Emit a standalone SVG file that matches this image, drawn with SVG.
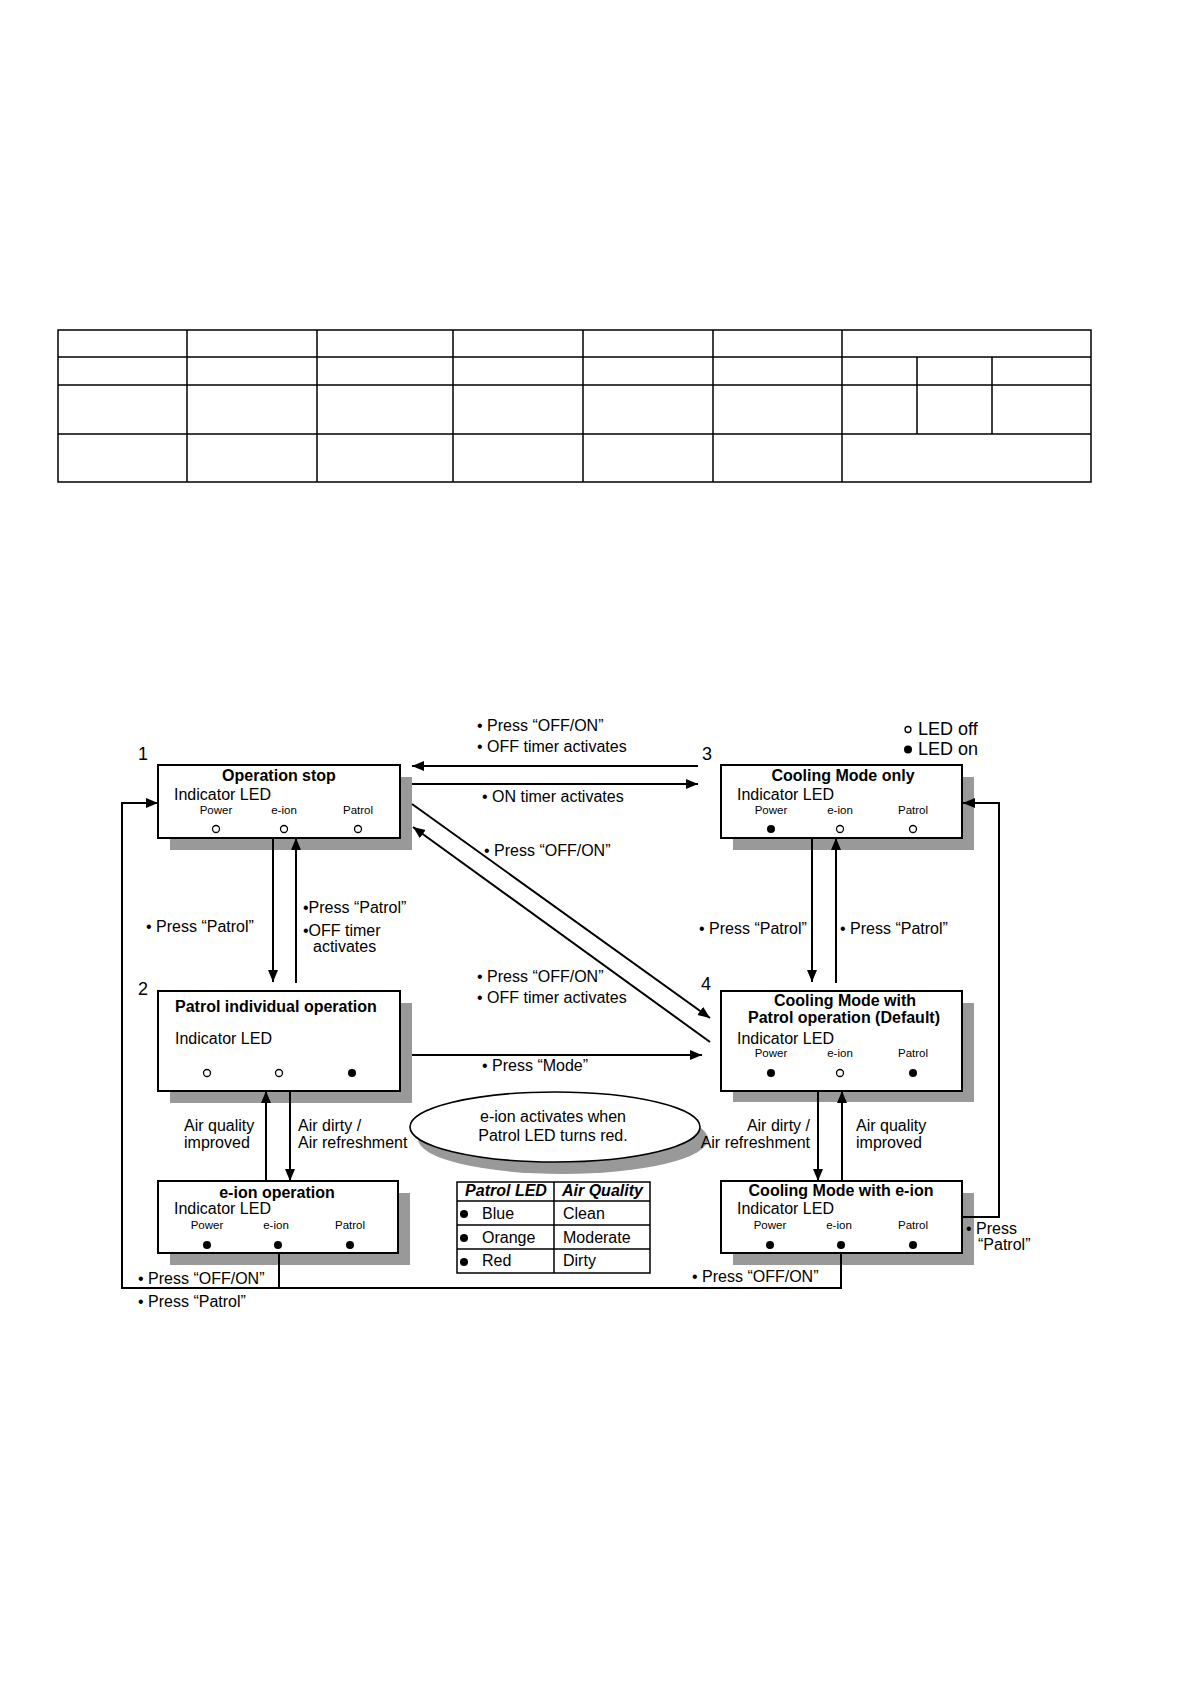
<svg xmlns="http://www.w3.org/2000/svg" width="1190" height="1684" viewBox="0 0 1190 1684">
<defs>
<marker id="arr" markerUnits="userSpaceOnUse" markerWidth="13" markerHeight="11" refX="12" refY="5" orient="auto">
<path d="M0,0 L12,5 L0,10 z" fill="#000"/>
</marker>
<style>
text{font-family:"Liberation Sans",Arial,sans-serif;fill:#000}
.t{font-size:16px}
.b{font-size:16px;font-weight:bold}
.bi{font-size:16px;font-weight:bold;font-style:italic}
.s{font-size:11.5px}
.n{font-size:18px}
.il{font-size:16px}
.box{fill:#fff;stroke:#000;stroke-width:2}
.sh{fill:#999}
.ln{fill:none;stroke:#000;stroke-width:2}
.ar{fill:none;stroke:#000;stroke-width:2;marker-end:url(#arr)}
.tb{fill:none;stroke:#000;stroke-width:1.5}
.off{fill:#fff;stroke:#000;stroke-width:1.3}
.on{fill:#000}
</style>
</defs>
<rect width="1190" height="1684" fill="#fff"/>

<g id="top-table">
<rect class="tb" x="58" y="330" width="1033" height="152"/>
<path class="tb" d="M58,357H1091M58,385H1091M58,434H1091M187,330V482M317,330V482M453,330V482M583,330V482M713,330V482M842,330V482M917,357V434M992,357V434"/>
</g>

<g id="node1">
<rect class="sh" x="170" y="777" width="242" height="73"/>
<rect class="box" x="158" y="765" width="242" height="73"/>
<text class="b" x="279" y="781" text-anchor="middle">Operation stop</text>
<text class="il" x="174" y="800">Indicator LED</text>
<text class="s" x="216" y="814" text-anchor="middle">Power</text>
<text class="s" x="284" y="814" text-anchor="middle">e-ion</text>
<text class="s" x="358" y="814" text-anchor="middle">Patrol</text>
<circle class="off" cx="216" cy="829" r="3.5"/>
<circle class="off" cx="284" cy="829" r="3.5"/>
<circle class="off" cx="358" cy="829" r="3.5"/>
</g>

<g id="node3">
<rect class="sh" x="733" y="777" width="241" height="73"/>
<rect class="box" x="721" y="765" width="241" height="73"/>
<text class="b" x="843" y="781" text-anchor="middle">Cooling Mode only</text>
<text class="il" x="737" y="800">Indicator LED</text>
<text class="s" x="771" y="814" text-anchor="middle">Power</text>
<text class="s" x="840" y="814" text-anchor="middle">e-ion</text>
<text class="s" x="913" y="814" text-anchor="middle">Patrol</text>
<circle class="on" cx="771" cy="829" r="4"/>
<circle class="off" cx="840" cy="829" r="3.5"/>
<circle class="off" cx="913" cy="829" r="3.5"/>
</g>

<g id="node2">
<rect class="sh" x="170" y="1003" width="242" height="100"/>
<rect class="box" x="158" y="991" width="242" height="100"/>
<text class="b" x="175" y="1012">Patrol individual operation</text>
<text class="il" x="175" y="1044">Indicator LED</text>
<circle class="off" cx="207" cy="1073" r="3.5"/>
<circle class="off" cx="279" cy="1073" r="3.5"/>
<circle class="on" cx="352" cy="1073" r="4"/>
</g>

<g id="node4">
<rect class="sh" x="733" y="1003" width="241" height="99"/>
<rect class="box" x="721" y="991" width="241" height="100"/>
<text class="b" x="845" y="1006" text-anchor="middle">Cooling Mode with</text>
<text class="b" x="844" y="1023" text-anchor="middle">Patrol operation (Default)</text>
<text class="il" x="737" y="1044">Indicator LED</text>
<text class="s" x="771" y="1057" text-anchor="middle">Power</text>
<text class="s" x="840" y="1057" text-anchor="middle">e-ion</text>
<text class="s" x="913" y="1057" text-anchor="middle">Patrol</text>
<circle class="on" cx="771" cy="1073" r="4"/>
<circle class="off" cx="840" cy="1073" r="3.5"/>
<circle class="on" cx="913" cy="1073" r="4"/>
</g>

<g id="node-eion">
<rect class="sh" x="170" y="1193" width="240" height="72"/>
<rect class="box" x="158" y="1181" width="240" height="72"/>
<text class="b" x="277" y="1198" text-anchor="middle">e-ion operation</text>
<text class="il" x="174" y="1214">Indicator LED</text>
<text class="s" x="207" y="1229" text-anchor="middle">Power</text>
<text class="s" x="276" y="1229" text-anchor="middle">e-ion</text>
<text class="s" x="350" y="1229" text-anchor="middle">Patrol</text>
<circle class="on" cx="207" cy="1245" r="4"/>
<circle class="on" cx="278" cy="1245" r="4"/>
<circle class="on" cx="350" cy="1245" r="4"/>
</g>

<g id="node-cooling-eion">
<rect class="sh" x="733" y="1193" width="241" height="72"/>
<rect class="box" x="721" y="1181" width="241" height="72"/>
<text class="b" x="841" y="1196" text-anchor="middle">Cooling Mode with e-ion</text>
<text class="il" x="737" y="1214">Indicator LED</text>
<text class="s" x="770" y="1229" text-anchor="middle">Power</text>
<text class="s" x="839" y="1229" text-anchor="middle">e-ion</text>
<text class="s" x="913" y="1229" text-anchor="middle">Patrol</text>
<circle class="on" cx="770" cy="1245" r="4"/>
<circle class="on" cx="841" cy="1245" r="4"/>
<circle class="on" cx="913" cy="1245" r="4"/>
</g>

<g id="note">
<ellipse cx="563" cy="1139" rx="145" ry="35" fill="#999"/>
<ellipse cx="555" cy="1127" rx="145" ry="35" fill="#fff" stroke="#000" stroke-width="1.6"/>
<text class="t" x="553" y="1122" text-anchor="middle">e-ion activates when</text>
<text class="t" x="553" y="1141" text-anchor="middle">Patrol LED turns red.</text>
</g>

<g id="patrol-table">
<rect class="tb" x="457" y="1182" width="193" height="91"/>
<path class="tb" d="M457,1201H650M457,1225H650M457,1249H650M554,1182V1273"/>
<text class="bi" x="506" y="1196" text-anchor="middle">Patrol LED</text>
<text class="bi" x="562" y="1196">Air Quality</text>
<circle class="on" cx="464" cy="1214" r="4"/>
<circle class="on" cx="464" cy="1238" r="4"/>
<circle class="on" cx="464" cy="1262" r="4"/>
<text class="t" x="482" y="1219">Blue</text>
<text class="t" x="482" y="1243">Orange</text>
<text class="t" x="482" y="1266">Red</text>
<text class="t" x="563" y="1219">Clean</text>
<text class="t" x="563" y="1243">Moderate</text>
<text class="t" x="563" y="1266">Dirty</text>
</g>

<g id="connectors">
<path class="ar" d="M698,766H412"/>
<path class="ar" d="M412,784H698"/>
<path class="ar" d="M412,804L710,1018"/>
<path class="ar" d="M710,1042L413,827"/>
<path class="ar" d="M273,838V982"/>
<path class="ar" d="M296,983V838"/>
<path class="ar" d="M412,1055H702"/>
<path class="ar" d="M812,838V982"/>
<path class="ar" d="M836,983V838"/>
<path class="ar" d="M290,1091V1181"/>
<path class="ar" d="M266,1181V1091"/>
<path class="ar" d="M818,1091V1181"/>
<path class="ar" d="M842,1181V1091"/>
<path class="ar" d="M962,1217H999V803H963"/>
<path class="ln" d="M279,1253V1288"/>
<path class="ar" d="M841,1253V1288H122V803H158"/>
</g>

<g id="labels">
<text class="t" x="477" y="731">• Press “OFF/ON”</text>
<text class="t" x="477" y="752">• OFF timer activates</text>
<text class="t" x="482" y="802">• ON timer activates</text>
<text class="t" x="484" y="856">• Press “OFF/ON”</text>
<text class="t" x="146" y="932">• Press “Patrol”</text>
<text class="t" x="303" y="913">•Press “Patrol”</text>
<text class="t" x="303" y="936">•OFF timer</text>
<text class="t" x="313" y="952">activates</text>
<text class="t" x="699" y="934">• Press “Patrol”</text>
<text class="t" x="840" y="934">• Press “Patrol”</text>
<text class="t" x="477" y="982">• Press “OFF/ON”</text>
<text class="t" x="477" y="1003">• OFF timer activates</text>
<text class="t" x="482" y="1071">• Press “Mode”</text>
<text class="t" x="184" y="1131">Air quality</text>
<text class="t" x="184" y="1148">improved</text>
<text class="t" x="298" y="1131">Air dirty /</text>
<text class="t" x="298" y="1148">Air refreshment</text>
<text class="t" x="810" y="1131" text-anchor="end">Air dirty /</text>
<text class="t" x="810" y="1148" text-anchor="end">Air refreshment</text>
<text class="t" x="856" y="1131">Air quality</text>
<text class="t" x="856" y="1148">improved</text>
<text class="t" x="138" y="1284">• Press “OFF/ON”</text>
<text class="t" x="138" y="1307">• Press “Patrol”</text>
<text class="t" x="692" y="1282">• Press “OFF/ON”</text>
<text class="t" x="966" y="1234">• Press</text>
<text class="t" x="978" y="1250">“Patrol”</text>
<text class="n" x="138" y="760">1</text>
<text class="n" x="138" y="995">2</text>
<text class="n" x="702" y="760">3</text>
<text class="n" x="701" y="990">4</text>
</g>

<g id="legend">
<circle class="off" cx="908" cy="729.5" r="3"/>
<text class="n" x="918" y="735">LED off</text>
<circle class="on" cx="908" cy="749.5" r="4"/>
<text class="n" x="918" y="755">LED on</text>
</g>
</svg>
